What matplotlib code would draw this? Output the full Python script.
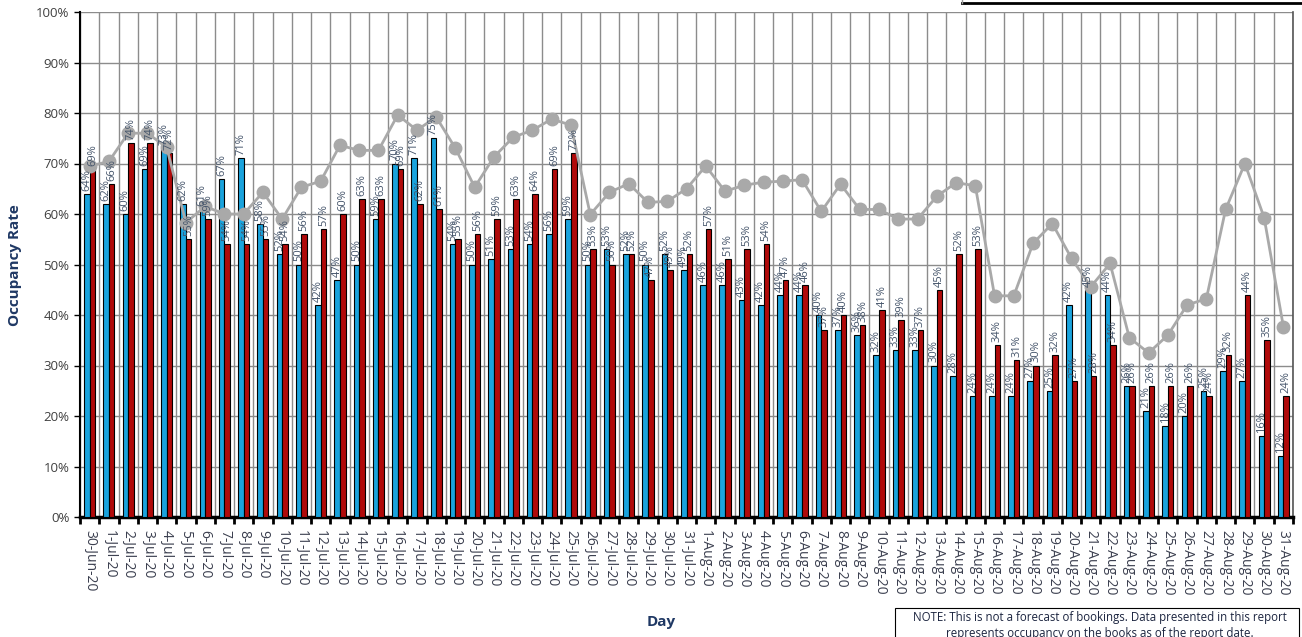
import matplotlib
matplotlib.use("Agg")
import matplotlib.pyplot as plt
import matplotlib.patches as mpatches
from matplotlib.lines import Line2D
import numpy as np
import pandas as pd

plt.rcParams['font.family'] = ['Open Sans', 'DejaVu Sans']

days = [f"{d.day}-{d.strftime('%b')}-20" for d in pd.date_range("2020-06-30", "2020-08-31")]

blue_vals = [64, 62, 60, 69, 73, 62, 61, 67, 71, 58, 52, 50, 42, 47, 50, 59,
             70, 71, 75, 54, 50, 51, 53, 54, 56, 59, 50, 53, 52, 50, 52, 49,
             46, 46, 43, 42, 44, 44, 40, 37, 36, 32, 33, 33, 30, 28, 24,
             24, 24, 27, 25, 42, 45, 44, 26, 21, 18, 20, 25, 29, 27, 16, 12]
red_vals = [69, 66, 74, 74, 72, 55, 59, 54, 54, 55, 54, 56, 57, 60, 63, 63,
            69, 62, 61, 55, 56, 59, 63, 64, 69, 72, 53, 50, 52, 47, 49, 52,
            57, 51, 53, 54, 47, 46, 37, 40, 38, 41, 39, 37, 45, 52, 53,
            34, 31, 30, 32, 27, 28, 34, 26, 26, 26, 26, 24, 32, 44, 35, 24]
grey_vals = [69.5, 70.4, 76.0, 76.0, 73.2, 58.3, 61.5, 60.0, 60.0, 64.3, 59.0, 65.3,
             66.5, 73.6, 72.6, 72.6, 79.6, 76.6, 79.2, 73.0, 65.3, 71.3, 75.2, 76.6,
             78.8, 77.6, 59.9, 64.3, 66.0, 62.3, 62.5, 65.0, 69.5, 64.5, 65.7, 66.3,
             66.5, 66.8, 60.5, 65.9, 60.9, 60.9, 59.0, 59.0, 63.5, 66.2, 65.6,
             43.8, 43.8, 54.2, 58.1, 51.2, 45.6, 50.2, 35.5, 32.5, 36.0, 42.0,
             43.2, 60.9, 70.0, 59.3, 37.7]
y_ticks = list(range(0, 101, 10))

BLUE = '#1AA3DD'
RED = '#B00A0A'
GREY = '#A9A9A9'
LABEL = '#44546A'
NAVY = '#1F3864'

fig = plt.figure(figsize=(13.02, 6.37), dpi=100)
ax = fig.add_axes([80/1302, 1-517/637, (1293-80)/1302, (517-12)/637])

n = len(days)
x = np.arange(n)
w = 0.29
ax.bar(x - w/2, blue_vals, w, color=BLUE, edgecolor='black', linewidth=0.8, zorder=3)
ax.bar(x + w/2, red_vals, w, color=RED, edgecolor='black', linewidth=0.8, zorder=3)
ax.plot(x, grey_vals, color=GREY, linewidth=2.0, marker='o', markersize=9,
        markerfacecolor=GREY, markeredgecolor=GREY, zorder=4)

for xi, v in zip(x, blue_vals):
    ax.text(xi - w/2, v + 0.6, f"{v}%", rotation=90, ha='center', va='bottom',
            fontsize=8, color=LABEL, zorder=5)
for xi, v in zip(x, red_vals):
    ax.text(xi + w/2, v + 0.6, f"{v}%", rotation=90, ha='center', va='bottom',
            fontsize=8, color=LABEL, zorder=5)

ax.set_xlim(-0.5, n - 0.5)
ax.set_ylim(0, 100)
ax.set_yticks(y_ticks)
ax.set_yticklabels([f"{t}%" for t in y_ticks], fontsize=9.5, color='#404040')
ax.set_xticks(x)
ax.set_xticklabels(days, rotation=270, fontsize=10, color='#3b3f4f', va='top', ha='center')
ax.tick_params(axis='x', which='major', length=0, pad=9)
ax.set_xticks(np.arange(-0.5, n, 1), minor=True)
ax.tick_params(axis='x', which='minor', length=5, width=2, color='black', direction='out')
ax.tick_params(axis='y', which='major', length=4, width=1, color='black', direction='out')

ax.grid(axis='y', which='major', color='#8c8c8c', linewidth=1, zorder=0)
ax.grid(axis='x', which='minor', color='#8c8c8c', linewidth=1, zorder=0)
ax.set_axisbelow(True)

ax.spines['top'].set_visible(False)
ax.spines['right'].set_color('#555555')
ax.spines['right'].set_linewidth(1.2)
ax.spines['left'].set_color('black')
ax.spines['left'].set_linewidth(1.5)
ax.spines['bottom'].set_color('black')
ax.spines['bottom'].set_linewidth(2.5)

fig.text(15/1302, 1-265/637, "Occupancy Rate", rotation=90, ha='center', va='center',
         fontsize=11, fontweight='bold', color=NAVY)
fig.text(661/1302, 1-622/637, "Day", ha='center', va='center',
         fontsize=11, fontweight='bold', color=NAVY)

# note box (cut off at bottom)
fig.patches.append(mpatches.Rectangle((895/1302, -0.05), (1302-895)/1302 - 0.002, 0.05 + (637-608)/637,
                                      transform=fig.transFigure, fill=False, edgecolor='black',
                                      linewidth=0.8))
fig.text(1100/1302, 1-618/637, "NOTE: This is not a forecast of bookings. Data presented in this report",
         ha='center', va='center', fontsize=8.3, color='#1c2540')
fig.text(1100/1302, 1-634/637, "represents occupancy on the books as of the report date.",
         ha='center', va='center', fontsize=8.3, color='#1c2540')

# legend box edge (cut off at top)
fig.add_artist(Line2D([962/1302, 1302/1302], [1-3/637, 1-3/637], transform=fig.transFigure,
                      color='black', linewidth=2))
fig.add_artist(Line2D([962/1302, 962/1302], [1-3/637, 1.0], transform=fig.transFigure,
                      color='#999999', linewidth=1))

fig.savefig("out.png", dpi=100)
